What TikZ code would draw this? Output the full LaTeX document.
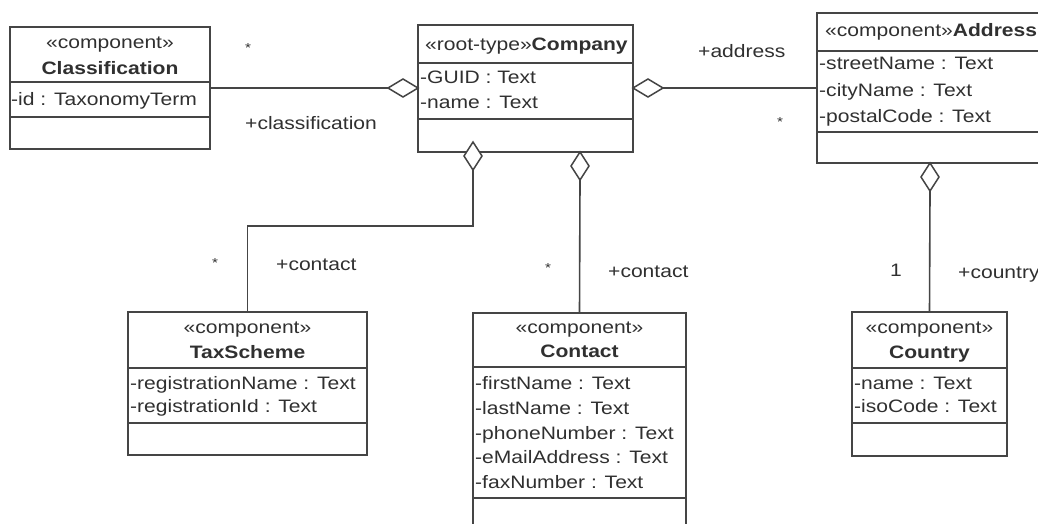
\documentclass[tikz,border=0pt]{standalone}
\usepackage{fontspec}
\usetikzlibrary{shapes.geometric}
\newfontfamily\umlfont{Liberation Sans}[FakeStretch=1.17]
\definecolor{ln}{HTML}{454545}
\definecolor{tx}{HTML}{303030}
\tikzset{
  umlbox/.style={draw=ln, line width=1.6pt, fill=white, inner sep=0pt, outer sep=0pt, anchor=north west},
  sepline/.style={draw=ln, line width=1.6pt},
  txt/.style={text=tx, inner sep=0pt, anchor=base west, font=\umlfont\fontsize{18}{22}\selectfont},
  ctxt/.style={text=tx, inner sep=0pt, anchor=base, font=\umlfont\fontsize{18}{22}\selectfont},
  startxt/.style={text=tx, inner sep=0pt, anchor=base, font=\umlfont\fontsize{13}{16}\selectfont},
  aggh/.style={diamond, draw=ln, line width=1.5pt, fill=white, inner sep=0pt, outer sep=0pt, minimum width=30pt, minimum height=18pt},
  aggv/.style={diamond, draw=ln, line width=1.5pt, fill=white, inner sep=0pt, outer sep=0pt, minimum width=18pt, minimum height=28pt},
  conn/.style={draw=ln, line width=1.6pt},
}
\begin{document}
\begin{tikzpicture}[x=1pt, y=-1pt]
\useasboundingbox (0,0) rectangle (1038,524);
\clip (0,0) rectangle (1038,524);
\fill[white] (0,0) rectangle (1038,524);

% ---------- Classification ----------
\node[umlbox, minimum width=200pt, minimum height=122pt] (classif) at (10,27) {};
\draw[sepline] (classif.west |- 0,82) -- (classif.east |- 0,82);
\draw[sepline] (classif.west |- 0,117) -- (classif.east |- 0,117);
\node[ctxt] (classifst) at (110,49) {«component»};
\node[ctxt] (classifnm) at (110,74.5) {\textbf{Classification}};
\node[txt] (classifa1) at (11,105.5) {-id : TaxonomyTerm};

% ---------- Company ----------
\node[umlbox, minimum width=215pt, minimum height=127pt] (comp) at (418,25) {};
\draw[sepline] (comp.west |- 0,63) -- (comp.east |- 0,63);
\draw[sepline] (comp.west |- 0,119) -- (comp.east |- 0,119);
\node[txt] (compnm) at (425,50.5) {«root-type»\textbf{Company}};
\node[txt] (compa1) at (420,83.5) {-GUID : Text};
\node[txt] (compa2) at (420,108.5) {-name : Text};

% ---------- Address ----------
\node[umlbox, minimum width=240pt, minimum height=150pt] (addr) at (817,13) {};
\draw[sepline] (addr.west |- 0,51) -- (addr.east |- 0,51);
\draw[sepline] (addr.west |- 0,132) -- (addr.east |- 0,132);
\node[txt] (addrnm) at (825,36.5) {«component»\textbf{Address}};
\node[txt] (addra1) at (819,69.5) {-streetName : Text};
\node[txt] (addra2) at (819,96.5) {-cityName : Text};
\node[txt] (addra3) at (819,122.5) {-postalCode : Text};

% ---------- TaxScheme ----------
\node[umlbox, minimum width=239pt, minimum height=143pt] (tax) at (128,312) {};
\draw[sepline] (tax.west |- 0,368) -- (tax.east |- 0,368);
\draw[sepline] (tax.west |- 0,423) -- (tax.east |- 0,423);
\node[ctxt] (taxst) at (247.5,333) {«component»};
\node[ctxt] (taxnm) at (247.5,358.5) {\textbf{TaxScheme}};
\node[txt] (taxa1) at (130,389.5) {-registrationName : Text};
\node[txt] (taxa2) at (130,412) {-registrationId : Text};

% ---------- Contact ----------
\node[umlbox, minimum width=213pt, minimum height=240pt] (cont) at (473,313) {};
\draw[sepline] (cont.west |- 0,367) -- (cont.east |- 0,367);
\draw[sepline] (cont.west |- 0,498) -- (cont.east |- 0,498);
\node[ctxt] (contst) at (579.5,333) {«component»};
\node[ctxt] (contnm) at (579.5,357.5) {\textbf{Contact}};
\node[txt] (conta1) at (475,389.5) {-firstName : Text};
\node[txt] (conta2) at (475,414) {-lastName : Text};
\node[txt] (conta3) at (475,439) {-phoneNumber : Text};
\node[txt] (conta4) at (475,463.5) {-eMailAddress : Text};
\node[txt] (conta5) at (475,488) {-faxNumber : Text};

% ---------- Country ----------
\node[umlbox, minimum width=155pt, minimum height=144pt] (ctry) at (852,312) {};
\draw[sepline] (ctry.west |- 0,368) -- (ctry.east |- 0,368);
\draw[sepline] (ctry.west |- 0,423) -- (ctry.east |- 0,423);
\node[ctxt] (ctryst) at (929.5,333) {«component»};
\node[ctxt] (ctrynm) at (929.5,358.5) {\textbf{Country}};
\node[txt] (ctrya1) at (854,389.5) {-name : Text};
\node[txt] (ctrya2) at (854,412) {-isoCode : Text};

% ---------- aggregation diamonds ----------
\node[aggh] (dcl) at (403,88) {};
\node[aggh] (dad) at (648,88) {};
\node[aggv] (dtx) at (473,156) {};
\node[aggv] (dct) at (580,166) {};
\node[aggv] (dco) at (930,177) {};

% ---------- connectors ----------
\draw[conn] (classif.east) -- (dcl.west);
\draw[conn] (dad.east) -- (addr.west);
\coordinate (bendtx) at (473,226);
\draw[conn] (dtx.south) -- (bendtx) -| (tax.north);
\draw[conn] (dct.south) -- (cont.north);
\draw[conn] (dco.south) -- (ctry.north);

% ---------- role labels and multiplicities ----------
\node[startxt] (mcl) at (248,52.5) {*};
\node[txt] (rcl) at (245,129.5) {+classification};
\node[txt] (rad) at (698,58) {+address};
\node[startxt] (mad) at (780,126.5) {*};
\node[startxt] (mtx) at (215,267.5) {*};
\node[txt] (rtx) at (276,270) {+contact};
\node[startxt] (mct) at (548,272.5) {*};
\node[txt] (rct) at (608,277) {+contact};
\node[ctxt] (mco) at (896,276.5) {1};
\node[txt] (rco) at (958,278) {+country};
\end{tikzpicture}
\end{document}
